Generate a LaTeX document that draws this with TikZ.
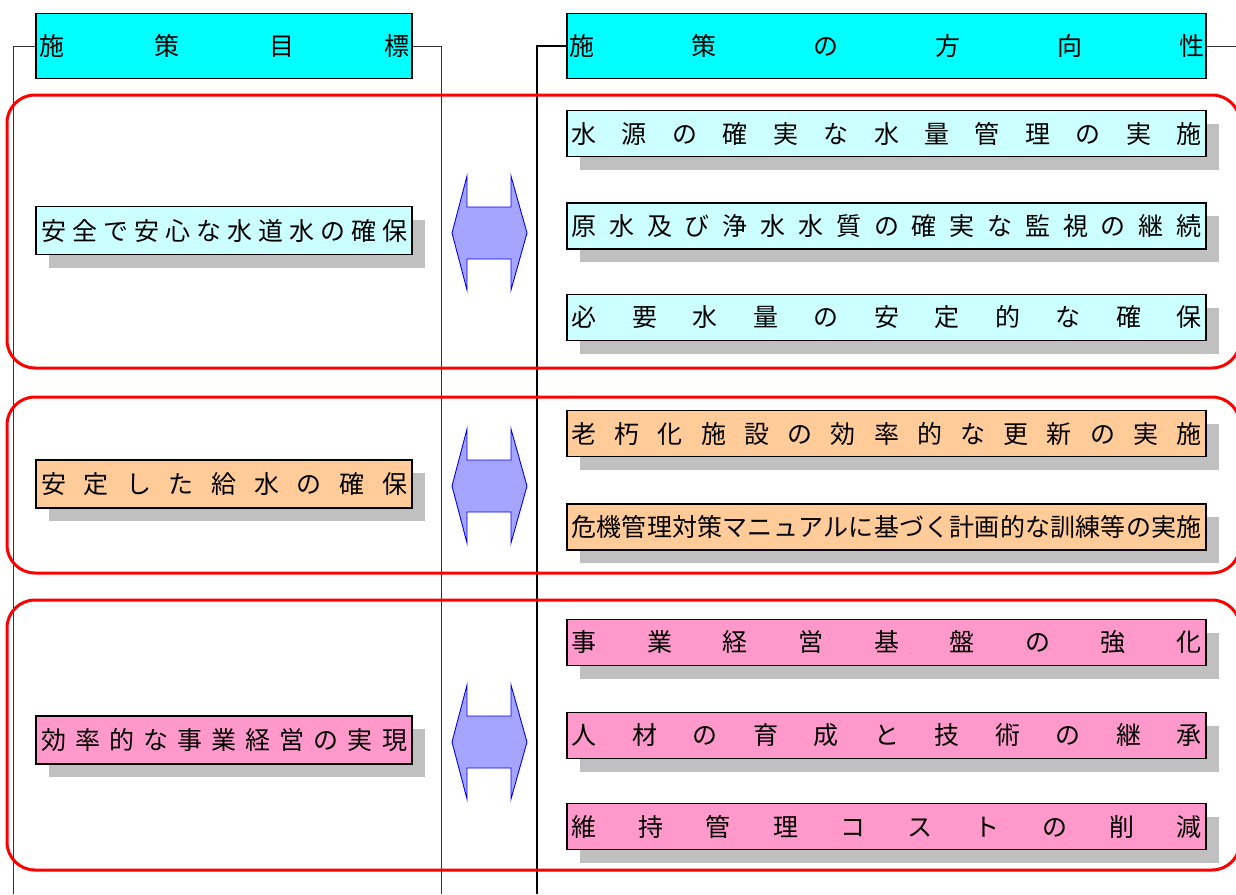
\documentclass[tikz,border=0pt]{standalone}
\usepackage{fontspec}
\setmainfont{Noto Sans CJK JP}
\usetikzlibrary{shadows}
\definecolor{hdcyan}{RGB}{0,255,255}
\definecolor{palecyan}{RGB}{204,255,255}
\definecolor{paleorange}{RGB}{255,204,153}
\definecolor{palepink}{RGB}{255,153,204}
\definecolor{shadowgrey}{RGB}{192,192,192}
\definecolor{arrowblue}{RGB}{165,165,255}
% spread the characters of #2 evenly over a width of #1
\ExplSyntaxOn
\seq_new:N \l_spread_chars_seq
\NewDocumentCommand\spreadtext{mm}
  {
    \seq_clear:N \l_spread_chars_seq
    \exp_args:No \tl_map_inline:nn {#2} {\seq_put_right:Nn \l_spread_chars_seq {##1}}
    \makebox[#1][s]{\seq_use:Nn \l_spread_chars_seq {\hfill}}
  }
\ExplSyntaxOff
\tikzset{
  hdbox/.style={draw=black,line width=1.6pt,fill=hdcyan,minimum height=65pt,inner sep=0pt,
    font=\fontsize{25}{25}\selectfont},
  goalbox/.style={draw=black,line width=1.3pt,minimum width=376pt,minimum height=48pt,inner sep=0pt,
    font=\fontsize{25}{25}\selectfont,
    general shadow={fill=shadowgrey,draw=none,shadow xshift=13pt,shadow yshift=-13pt}},
  dirbox/.style={goalbox,minimum width=639pt,minimum height=46pt},
  bracket/.style={line width=0.9pt,black!80},
  groupframe/.style={draw=red,line width=3pt,rounded corners=28pt},
  swaparrow/.style={draw=blue,fill=arrowblue,line width=0.9pt,line join=miter},
}
\begin{document}
\begin{tikzpicture}[x=1pt,y=-1pt]
  \useasboundingbox (0,0) rectangle (1236,894);
  \clip (0,0) rectangle (1236,894);
  % brackets behind the two columns
  \draw[bracket] (36,46) -- (13,46) -- (13,894);
  \draw[bracket] (412,46) -- (441,46) -- (441,894);
  \draw[bracket,line width=1.5pt,black] (567,46) -- (537,46) -- (537,894);
  \draw[bracket] (1206,46) -- (1236,46);

  % red frames round each group
  \foreach \ya/\yb in {95/368,397/573,600/870}{
    \draw[groupframe] (7,\ya) rectangle (1240,\yb);};

  \node[hdbox,minimum width=376pt] (goalhd) at (224,46) {\spreadtext{370pt}{施策目標}};
  \node[hdbox,minimum width=639pt] (dirhd) at (886.5,46) {\spreadtext{635pt}{施策の方向性}};

  \foreach \nm/\yy/\col/\txt in {g1/230.5/palecyan/安全で安心な水道水の確保,
      g2/484/paleorange/安定した給水の確保,
      g3/740/palepink/効率的な事業経営の実現}{
    \node[goalbox,fill=\col] (\nm) at (224,\yy) {\spreadtext{366pt}{\txt}};};

  \foreach \nm/\yy/\col/\txt in {d1/133.5/palecyan/水源の確実な水量管理の実施,
      d2/226/palecyan/原水及び浄水水質の確実な監視の継続,
      d3/317.5/palecyan/必要水量の安定的な確保,
      d4/433.5/paleorange/老朽化施設の効率的な更新の実施,
      d5/527/paleorange/危機管理対策マニュアルに基づく計画的な訓練等の実施,
      d6/642.5/palepink/事業経営基盤の強化,
      d7/735.5/palepink/人材の育成と技術の継承,
      d8/826.5/palepink/維持管理コストの削減}{
    \node[dirbox,fill=\col] (\nm) at (886.5,\yy) {\spreadtext{630pt}{\txt}};};

  % two-way arrows between goals and directions
  \foreach \yy in {233,486,742}{
    \draw[swaparrow] (452,\yy) -- (467,\yy-57) -- (467,\yy-26) -- (511,\yy-26) -- (511,\yy-57)
      -- (527,\yy) -- (511,\yy+57) -- (511,\yy+26) -- (467,\yy+26) -- (467,\yy+57) -- cycle;};
\end{tikzpicture}
\end{document}
